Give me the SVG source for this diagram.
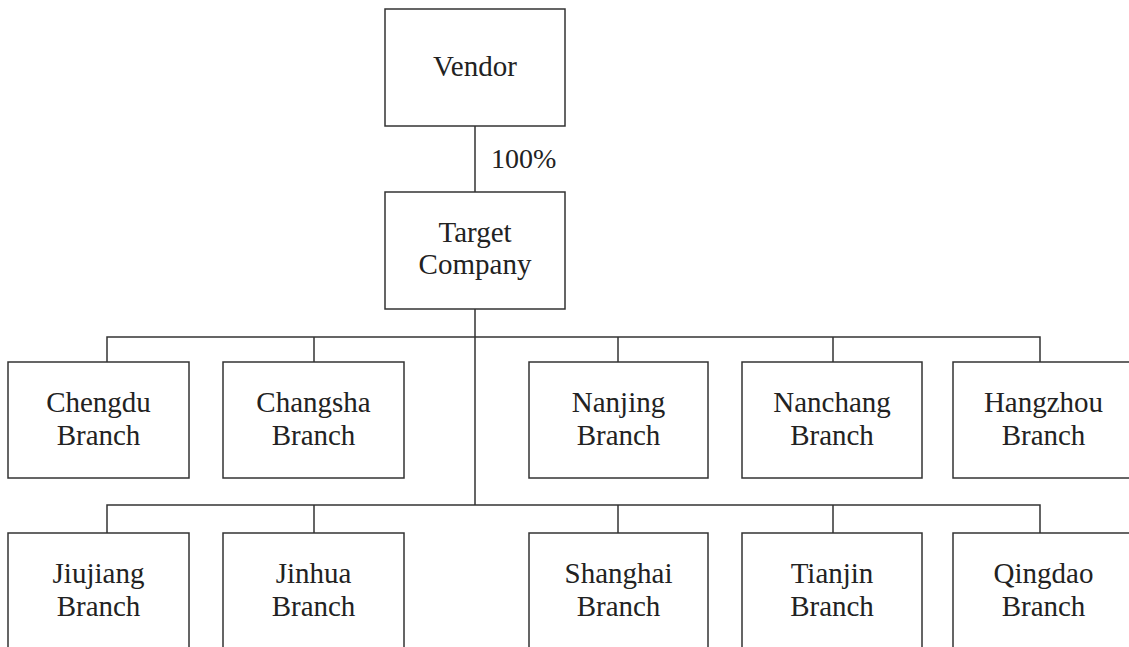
<svg xmlns="http://www.w3.org/2000/svg" width="1129" height="647" viewBox="0 0 1129 647">
<style>
.box{fill:#fff;stroke:#333;stroke-width:1.5}
.ln{fill:none;stroke:#333;stroke-width:1.5}
text{font-family:"Liberation Serif","Times New Roman",serif;font-size:29px;fill:#222;text-anchor:middle}
</style>
<rect width="1129" height="647" fill="#fff"/>
<g id="connectors">
<path class="ln" d="M475,126 V192 M475,309 V505"/>
<path class="ln" d="M107,362 V337 H1040 V362 M314,337 V362 M618,337 V362 M833,337 V362"/>
<path class="ln" d="M107,533 V505 H1040 V533 M314,505 V533 M618,505 V533 M833,505 V533"/>
<text x="491" y="168" style="text-anchor:start;font-size:28px">100%</text>
</g>
<g id="vendor"><rect class="box" x="385" y="9" width="180" height="117"/><text x="475" y="76">Vendor</text></g>
<g id="target"><rect class="box" x="385" y="192" width="180" height="117"/><text x="475" y="242">Target</text><text x="475" y="274">Company</text></g>
<g id="chengdu"><rect class="box" x="8" y="362" width="181" height="116"/><text x="98.5" y="412">Chengdu</text><text x="98.5" y="445">Branch</text></g>
<g id="changsha"><rect class="box" x="223" y="362" width="181" height="116"/><text x="313.5" y="412">Changsha</text><text x="313.5" y="445">Branch</text></g>
<g id="nanjing"><rect class="box" x="529" y="362" width="179" height="116"/><text x="618.5" y="412">Nanjing</text><text x="618.5" y="445">Branch</text></g>
<g id="nanchang"><rect class="box" x="742" y="362" width="180" height="116"/><text x="832" y="412">Nanchang</text><text x="832" y="445">Branch</text></g>
<g id="hangzhou"><rect class="box" x="953" y="362" width="181" height="116"/><text x="1043.5" y="412">Hangzhou</text><text x="1043.5" y="445">Branch</text></g>
<g id="jiujiang"><rect class="box" x="8" y="533" width="181" height="130"/><text x="98.5" y="583">Jiujiang</text><text x="98.5" y="616">Branch</text></g>
<g id="jinhua"><rect class="box" x="223" y="533" width="181" height="130"/><text x="313.5" y="583">Jinhua</text><text x="313.5" y="616">Branch</text></g>
<g id="shanghai"><rect class="box" x="529" y="533" width="179" height="130"/><text x="618.5" y="583">Shanghai</text><text x="618.5" y="616">Branch</text></g>
<g id="tianjin"><rect class="box" x="742" y="533" width="180" height="130"/><text x="832" y="583">Tianjin</text><text x="832" y="616">Branch</text></g>
<g id="qingdao"><rect class="box" x="953" y="533" width="181" height="130"/><text x="1043.5" y="583">Qingdao</text><text x="1043.5" y="616">Branch</text></g>
</svg>
